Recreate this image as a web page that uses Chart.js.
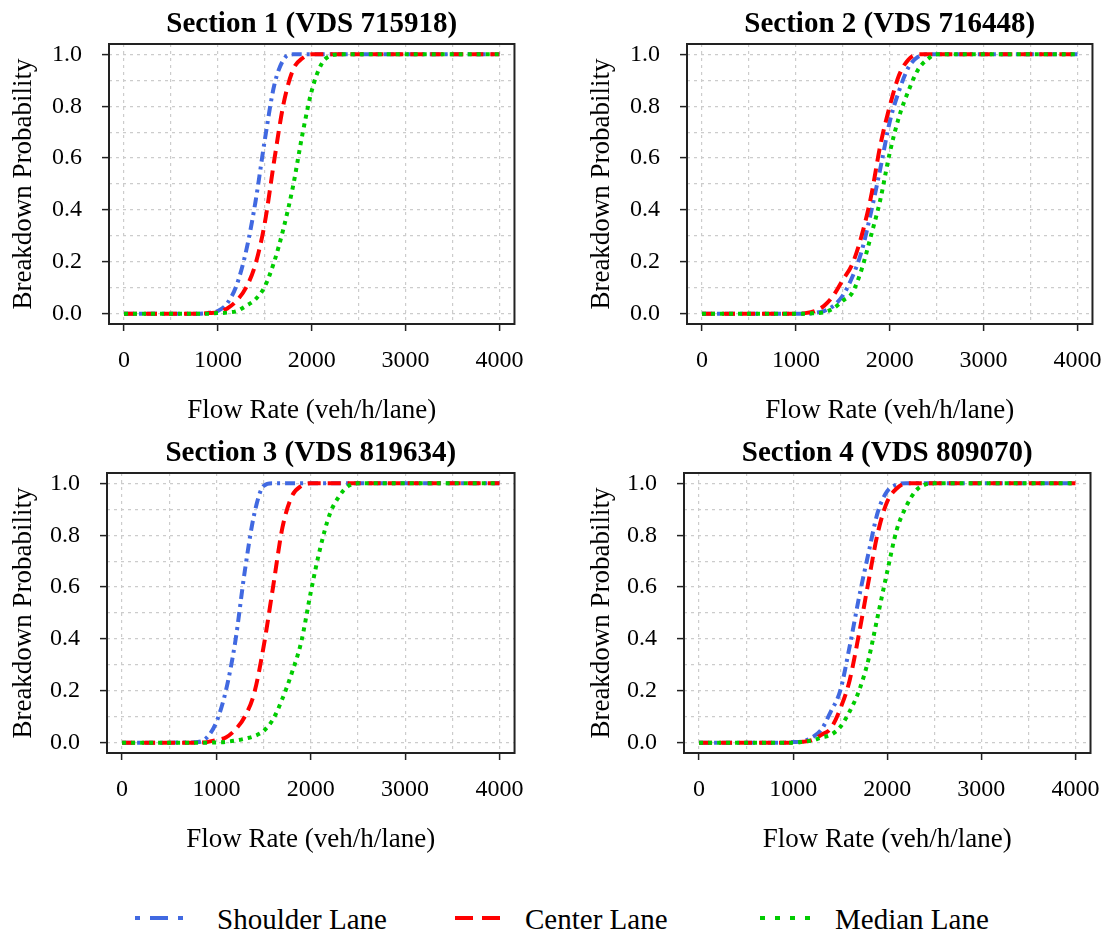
<!DOCTYPE html>
<html>
<head>
<meta charset="utf-8">
<script src="https://cdn.jsdelivr.net/npm/chart.js@4/dist/chart.umd.min.js"></script>
<style>
html,body{margin:0;padding:0;background:#fff;width:1118px;height:934px;overflow:hidden;position:relative;font-family:"Liberation Serif",serif;}
canvas{position:absolute;}
.leg{position:absolute;top:902px;font-size:29px;line-height:34px;color:#000;white-space:nowrap;}
</style>
</head>
<body>
<canvas id="c1" width="540" height="430" style="left:0;top:0"></canvas>
<canvas id="c2" width="540" height="430" style="left:578px;top:0"></canvas>
<canvas id="c3" width="540" height="430" style="left:0;top:429px"></canvas>
<canvas id="c4" width="538" height="430" style="left:578px;top:429px"></canvas>

<svg style="position:absolute;left:0;top:900px" width="1118" height="34">
  <line x1="135" y1="18" x2="183" y2="18" stroke="#4169E1" stroke-width="4" stroke-dasharray="5 10 18 10 5"/>
  <line x1="455" y1="18" x2="500" y2="18" stroke="#FF0000" stroke-width="4" stroke-dasharray="18 9 18"/>
  <line x1="760" y1="18" x2="810" y2="18" stroke="#00CC00" stroke-width="4" stroke-dasharray="5 10 5 10 5 10 5"/>
</svg>
<div class="leg" style="left:217px">Shoulder Lane</div>
<div class="leg" style="left:525px">Center Lane</div>
<div class="leg" style="left:835px">Median Lane</div>

<script>
// ---- data ----
const flowRates = [0,500,800,900,1000,1100,1200,1300,1400,1500,1600,1700,1800,1900,2000,2100,2200,2300,2400,2500,2600,3000,3500,4000];

const sectionTitles = ["Section 1 (VDS 715918)","Section 2 (VDS 716448)","Section 3 (VDS 819634)","Section 4 (VDS 809070)"];
const laneNames = ["Shoulder Lane","Center Lane","Median Lane"];

const s1Shoulder = [0,0,0,0.003,0.01,0.04,0.11,0.24,0.43,0.67,0.88,0.98,1,1,1,1,1,1,1,1,1,1,1,1];
const s1Center   = [0,0,0,0.002,0.005,0.02,0.05,0.10,0.19,0.35,0.59,0.81,0.94,0.985,1,1,1,1,1,1,1,1,1,1];
const s1Median   = [0,0,0,0,0.002,0.004,0.01,0.03,0.055,0.105,0.2,0.33,0.49,0.69,0.86,0.96,0.995,1,1,1,1,1,1,1];

const s2Shoulder = [0,0,0,0,0,0,0.003,0.01,0.03,0.07,0.14,0.24,0.39,0.56,0.74,0.86,0.95,0.99,1,1,1,1,1,1];
const s2Center   = [0,0,0,0,0,0.002,0.01,0.03,0.07,0.13,0.19,0.30,0.45,0.65,0.80,0.92,0.98,1,1,1,1,1,1,1];
const s2Median   = [0,0,0,0,0,0,0.002,0.005,0.02,0.05,0.08,0.17,0.30,0.44,0.62,0.76,0.86,0.94,0.98,1,1,1,1,1];

const s3Shoulder = [0,0,0.002,0.02,0.08,0.2,0.39,0.66,0.88,0.99,1,1,1,1,1,1,1,1,1,1,1,1,1,1];
const s3Center   = [0,0,0,0.002,0.01,0.02,0.05,0.1,0.19,0.37,0.6,0.83,0.95,0.99,1,1,1,1,1,1,1,1,1,1];
const s3Median   = [0,0,0,0,0.001,0.003,0.008,0.015,0.025,0.045,0.09,0.17,0.27,0.39,0.58,0.75,0.88,0.95,0.99,1,1,1,1,1];

const s4Shoulder = [0,0,0,0,0.002,0.005,0.02,0.05,0.12,0.2,0.37,0.56,0.73,0.89,0.97,0.995,1,1,1,1,1,1,1,1];
const s4Center   = [0,0,0,0,0,0.003,0.01,0.03,0.055,0.13,0.24,0.42,0.62,0.81,0.93,0.98,1,1,1,1,1,1,1,1];
const s4Median   = [0,0,0,0,0,0.003,0.008,0.02,0.03,0.06,0.12,0.2,0.32,0.49,0.66,0.82,0.91,0.97,0.995,1,1,1,1,1];

// ticks
const xGridValues = [0,500,1000,1500,2000,2500,3000,3500,4000];
const xMajorValues = [0,1000,2000,3000,4000];
const xTickLabels = ["0","1000","2000","3000","4000"];
const yGridValues = [0,0.1,0.2,0.3,0.4,0.5,0.6,0.7,0.8,0.9,1.0];
const yMajorValues = [0,0.2,0.4,0.6,0.8,1.0];
const yTickLabels = ["0.0","0.2","0.4","0.6","0.8","1.0"];

// ---- rendering ----
const FONT = "'Liberation Serif','Times New Roman',serif";
const laneStyles = [
  {color:'#4169E1', dash:[10,5,3,5], order:3},
  {color:'#FF0000', dash:[13,7], order:2},
  {color:'#00CC00', dash:[4,5], order:1}
];

const boxPlugin = {
  id:'box',
  afterDatasetsDraw(chart){
    const {ctx, chartArea:a} = chart;
    ctx.save();
    ctx.strokeStyle = '#222';
    ctx.lineWidth = 2;
    ctx.setLineDash([]);
    ctx.strokeRect(a.left, a.top, a.right - a.left, a.bottom - a.top);
    ctx.restore();
  }
};

function isMajor(list, v){ return list.some(m => Math.abs(m - v) < 1e-6); }

function makePanel(id, title, series, yAxisWidth){
  const datasets = series.map((ys, i) => ({
    label: laneNames[i],
    data: flowRates.map((x, j) => ({x: x, y: ys[j]})),
    borderColor: laneStyles[i].color,
    borderDash: laneStyles[i].dash,
    borderWidth: 4,
    pointRadius: 0,
    fill: false,
    cubicInterpolationMode: 'monotone',
    order: laneStyles[i].order
  }));
  new Chart(document.getElementById(id), {
    type: 'line',
    data: { datasets },
    plugins: [boxPlugin],
    options: {
      responsive: false,
      animation: false,
      devicePixelRatio: 1,
      layout: { padding: { left: 0, right: 12, top: 0, bottom: 0 } },
      plugins: {
        legend: { display: false },
        tooltip: { enabled: false },
        title: {
          display: true, text: title, color: '#000', fullSize: false, align: 'center',
          font: { family: FONT, size: 29, weight: 'bold', lineHeight: 1.2 },
          padding: { top: 7, bottom: 2.2 }
        }
      },
      scales: {
        x: {
          type: 'linear', min: -160, max: 4160,
          afterBuildTicks: s => { s.ticks = xGridValues.map(v => ({value: v})); },
          afterFit: s => { s.height = 106; },
          ticks: {
            autoSkip: false, maxRotation: 0, minRotation: 0, padding: 15.6, color: '#000',
            font: { family: FONT, size: 24, lineHeight: 1.2 },
            callback: v => { const k = xMajorValues.findIndex(m => Math.abs(m - v) < 1e-6); return k >= 0 ? xTickLabels[k] : ''; }
          },
          grid: {
            color: '#cccccc', lineWidth: 1.2, drawTicks: true, tickLength: 7, tickWidth: 1.5,
            tickBorderDash: [],
            tickColor: c => (c.tick && isMajor(xMajorValues, c.tick.value)) ? '#222' : 'rgba(0,0,0,0)'
          },
          border: { display: false, dash: [3,4] },
          title: {
            display: true, text: 'Flow Rate (veh/h/lane)', color: '#000',
            font: { family: FONT, size: 27, lineHeight: 1.2 },
            padding: { top: 0, bottom: 2.8 }
          }
        },
        y: {
          type: 'linear', min: -0.04, max: 1.04,
          afterBuildTicks: s => { s.ticks = yGridValues.map(v => ({value: v})); },
          afterFit: s => { s.width = yAxisWidth; },
          ticks: {
            autoSkip: false, padding: 20, color: '#000',
            font: { family: FONT, size: 24, lineHeight: 1.2 },
            callback: v => { const k = yMajorValues.findIndex(m => Math.abs(m - v) < 1e-6); return k >= 0 ? yTickLabels[k] : ''; }
          },
          grid: {
            color: '#cccccc', lineWidth: 1.2, drawTicks: true, tickLength: 7, tickWidth: 1.5,
            tickBorderDash: [],
            tickColor: c => (c.tick && isMajor(yMajorValues, c.tick.value)) ? '#222' : 'rgba(0,0,0,0)'
          },
          border: { display: false, dash: [3,4] },
          title: {
            display: true, text: 'Breakdown Probability', color: '#000',
            font: { family: FONT, size: 27, lineHeight: 1.2 },
            padding: { top: 7.6, bottom: 0 }
          }
        }
      }
    }
  });
}

makePanel('c1', sectionTitles[0], [s1Shoulder, s1Center, s1Median], 109);
makePanel('c2', sectionTitles[1], [s2Shoulder, s2Center, s2Median], 109);
makePanel('c3', sectionTitles[2], [s3Shoulder, s3Center, s3Median], 107);
makePanel('c4', sectionTitles[3], [s4Shoulder, s4Center, s4Median], 106);
</script>
</body>
</html>
